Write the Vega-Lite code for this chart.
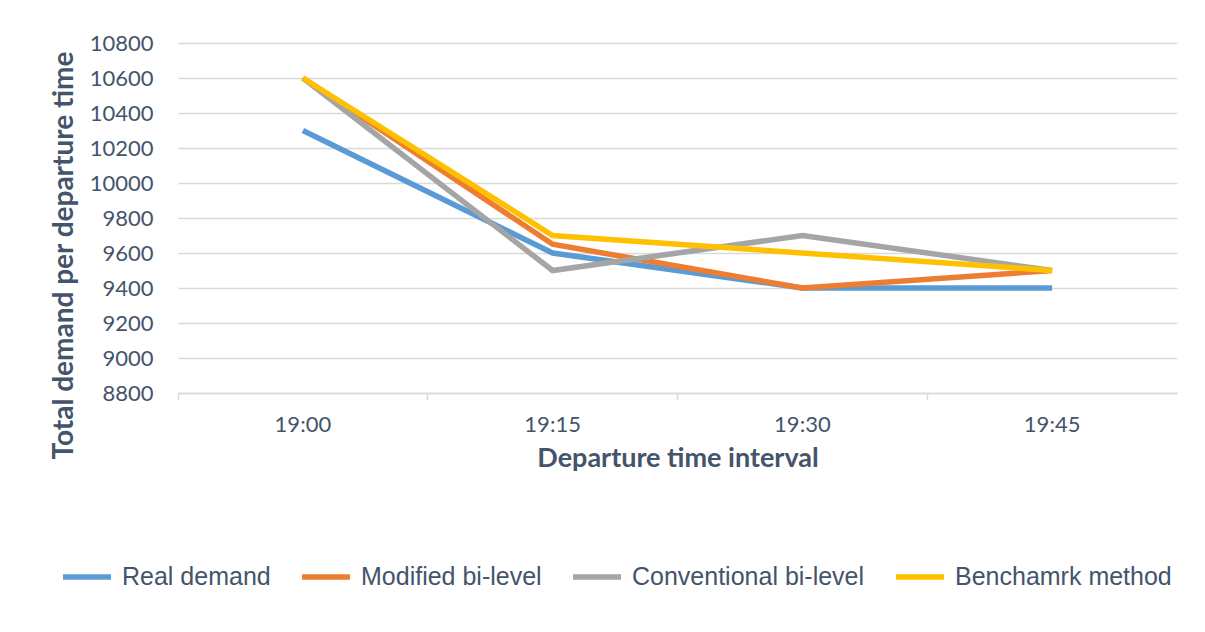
{
  "$schema": "https://vega.github.io/schema/vega-lite/v6.json",
  "width": 999,
  "height": 350,
  "autosize": {"type": "none"},
  "padding": {"left": 178, "top": 43, "right": 28, "bottom": 239},
  "background": "white",
  "data": {
    "values": [
      {"time": "19:00", "series": "Real demand", "value": 10300},
      {"time": "19:15", "series": "Real demand", "value": 9600},
      {"time": "19:30", "series": "Real demand", "value": 9400},
      {"time": "19:45", "series": "Real demand", "value": 9400},
      {"time": "19:00", "series": "Modified bi-level", "value": 10600},
      {"time": "19:15", "series": "Modified bi-level", "value": 9650},
      {"time": "19:30", "series": "Modified bi-level", "value": 9400},
      {"time": "19:45", "series": "Modified bi-level", "value": 9500},
      {"time": "19:00", "series": "Conventional bi-level", "value": 10600},
      {"time": "19:15", "series": "Conventional bi-level", "value": 9500},
      {"time": "19:30", "series": "Conventional bi-level", "value": 9700},
      {"time": "19:45", "series": "Conventional bi-level", "value": 9500},
      {"time": "19:00", "series": "Benchamrk method", "value": 10600},
      {"time": "19:15", "series": "Benchamrk method", "value": 9700},
      {"time": "19:30", "series": "Benchamrk method", "value": 9600},
      {"time": "19:45", "series": "Benchamrk method", "value": 9500}
    ]
  },
  "mark": {"type": "line", "strokeWidth": 5.5, "strokeJoin": "miter", "strokeCap": "butt"},
  "encoding": {
    "x": {
      "field": "time",
      "type": "ordinal",
      "bandPosition": 0.5,
      "scale": {"type": "band", "paddingInner": 0, "paddingOuter": 0},
      "axis": {
        "title": "Departure time interval",
        "labelAngle": 0,
        "bandPosition": 0,
        "grid": false,
        "domainColor": "#D9D9D9",
        "domainWidth": 1.5,
        "tickColor": "#D9D9D9",
        "tickWidth": 1.5,
        "tickSize": 7,
        "labelPadding": 14,
        "labelFont": "Lato",
        "labelFontSize": 22,
        "labelColor": "#44546A",
        "titleFont": "Lato",
        "titleFontSize": 27,
        "titleFontWeight": "bold",
        "titleColor": "#44546A",
        "titlePadding": 10
      }
    },
    "y": {
      "field": "value",
      "type": "quantitative",
      "scale": {"domain": [8800, 10800], "nice": false, "zero": false},
      "axis": {
        "title": "Total demand per departure time",
        "values": [8800, 9000, 9200, 9400, 9600, 9800, 10000, 10200, 10400, 10600, 10800],
        "format": "d",
        "domain": false,
        "ticks": false,
        "grid": true,
        "gridColor": "#D9D9D9",
        "gridWidth": 1.5,
        "labelPadding": 25,
        "labelFont": "Lato",
        "labelFontSize": 22,
        "labelColor": "#44546A",
        "titleFont": "Lato",
        "titleFontSize": 28,
        "titleFontWeight": "bold",
        "titleColor": "#44546A",
        "titlePadding": 11,
        "titleY": 212
      }
    },
    "color": {
      "field": "series",
      "type": "nominal",
      "sort": ["Real demand", "Modified bi-level", "Conventional bi-level", "Benchamrk method"],
      "scale": {
        "domain": ["Real demand", "Modified bi-level", "Conventional bi-level", "Benchamrk method"],
        "range": ["#5B9BD5", "#ED7D31", "#A5A5A5", "#FFC000"]
      },
      "legend": {
        "title": null,
        "orient": "none",
        "direction": "horizontal",
        "legendX": -118,
        "legendY": 507,
        "symbolType": "stroke",
        "symbolSize": 2304,
        "symbolStrokeWidth": 5.5,
        "labelFont": "Liberation Sans",
        "labelFontSize": 25,
        "labelColor": "#44546A",
        "labelOffset": 8,
        "columnPadding": 20,
        "labelLimit": 400
      }
    }
  },
  "config": {"view": {"stroke": null}}
}
